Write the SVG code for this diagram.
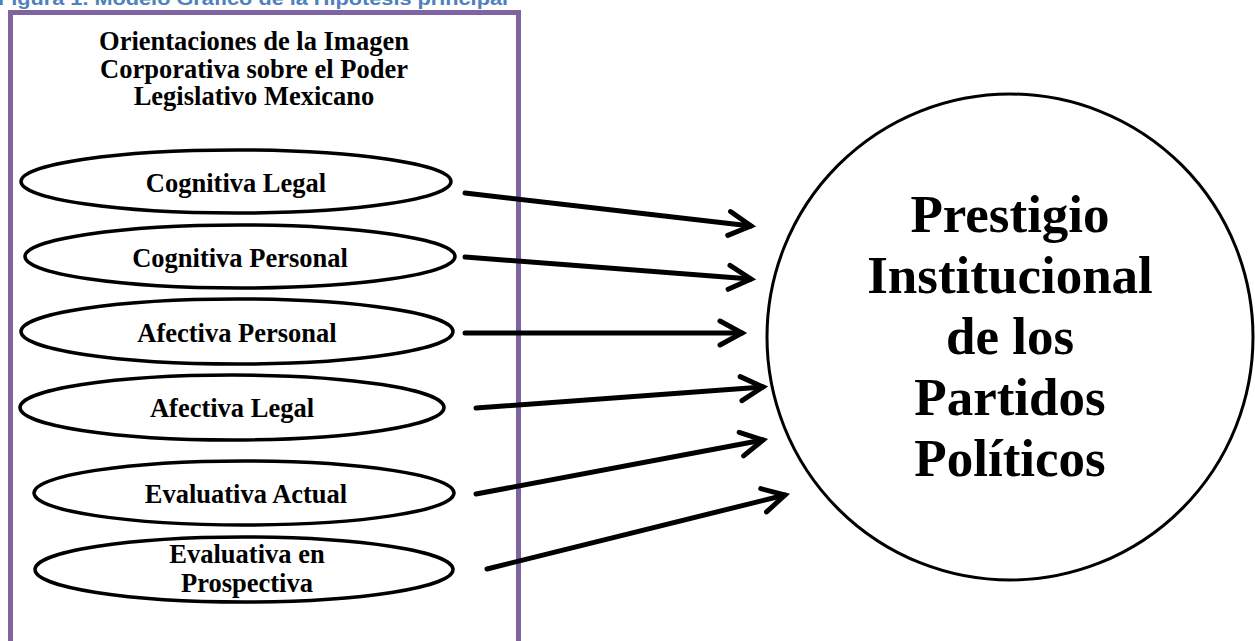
<svg xmlns="http://www.w3.org/2000/svg" width="1255" height="641" viewBox="0 0 1255 641">
<style>
.t{font-family:"Liberation Serif","Times New Roman",serif;font-weight:bold;fill:#000;text-anchor:middle}
.el{fill:#fff;stroke:#000;stroke-width:3.5}
.ar{stroke:#000;stroke-width:5;fill:none;stroke-linecap:round;marker-end:url(#head)}
</style>
<defs>
<marker id="head" markerUnits="userSpaceOnUse" viewBox="-30 -20 40 40" refX="0" refY="0" markerWidth="40" markerHeight="40" orient="auto">
<path d="M-22,-12 L0,0 L-22,12" fill="none" stroke="#000" stroke-width="5" stroke-linecap="round" stroke-linejoin="miter"/>
</marker>
</defs>
<rect width="1255" height="641" fill="#fff"/>
<text x="-2" y="5" font-family="'Liberation Sans',Arial,sans-serif" font-weight="bold" font-size="18" fill="#4F81BD" textLength="510" lengthAdjust="spacingAndGlyphs">Figura 1. Modelo Gráfico de la Hipótesis principal</text>
<g id="container">
<rect x="10.5" y="12.5" width="508" height="650" fill="none" stroke="#8064A2" stroke-width="5"/>
<text class="t" font-size="26.5"><tspan x="254" y="50">Orientaciones de la Imagen</tspan><tspan x="254" y="78">Corporativa sobre el Poder</tspan><tspan x="254" y="105">Legislativo Mexicano</tspan></text>
</g>
<g id="connectors">
<line class="ar" x1="465" y1="193" x2="751" y2="226"/>
<line class="ar" x1="465" y1="257" x2="751" y2="279"/>
<line class="ar" x1="465" y1="333" x2="742" y2="333"/>
<line class="ar" x1="476" y1="408" x2="763" y2="387"/>
<line class="ar" x1="476" y1="494" x2="763" y2="440"/>
<line class="ar" x1="487" y1="569" x2="785" y2="495"/>
</g>
<g id="n1"><ellipse class="el" cx="236" cy="181.5" rx="215" ry="31.5"/><text class="t" font-size="26.5" x="236" y="192">Cognitiva Legal</text></g>
<g id="n2"><ellipse class="el" cx="240" cy="256.5" rx="215" ry="31.5"/><text class="t" font-size="26.5" x="240" y="267">Cognitiva Personal</text></g>
<g id="n3"><ellipse class="el" cx="237" cy="331.5" rx="216" ry="32.5"/><text class="t" font-size="26.5" x="237" y="342">Afectiva Personal</text></g>
<g id="n4"><ellipse class="el" cx="232" cy="407.5" rx="212" ry="32.5"/><text class="t" font-size="26.5" x="232" y="417">Afectiva Legal</text></g>
<g id="n5"><ellipse class="el" cx="244" cy="493" rx="210" ry="32"/><text class="t" font-size="26.5" x="246" y="503">Evaluativa Actual</text></g>
<g id="n6"><ellipse class="el" cx="244" cy="569.5" rx="209" ry="32.5"/><text class="t" font-size="26.5"><tspan x="247" y="563">Evaluativa en</tspan><tspan x="247" y="592">Prospectiva</tspan></text></g>
<g id="target">
<circle cx="1010" cy="337" r="243" fill="#fff" stroke="#000" stroke-width="3"/>
<text class="t" font-size="53"><tspan x="1010" y="232">Prestigio</tspan><tspan x="1010" y="293">Institucional</tspan><tspan x="1010" y="354">de los</tspan><tspan x="1010" y="415">Partidos</tspan><tspan x="1010" y="476">Políticos</tspan></text>
</g>
</svg>
